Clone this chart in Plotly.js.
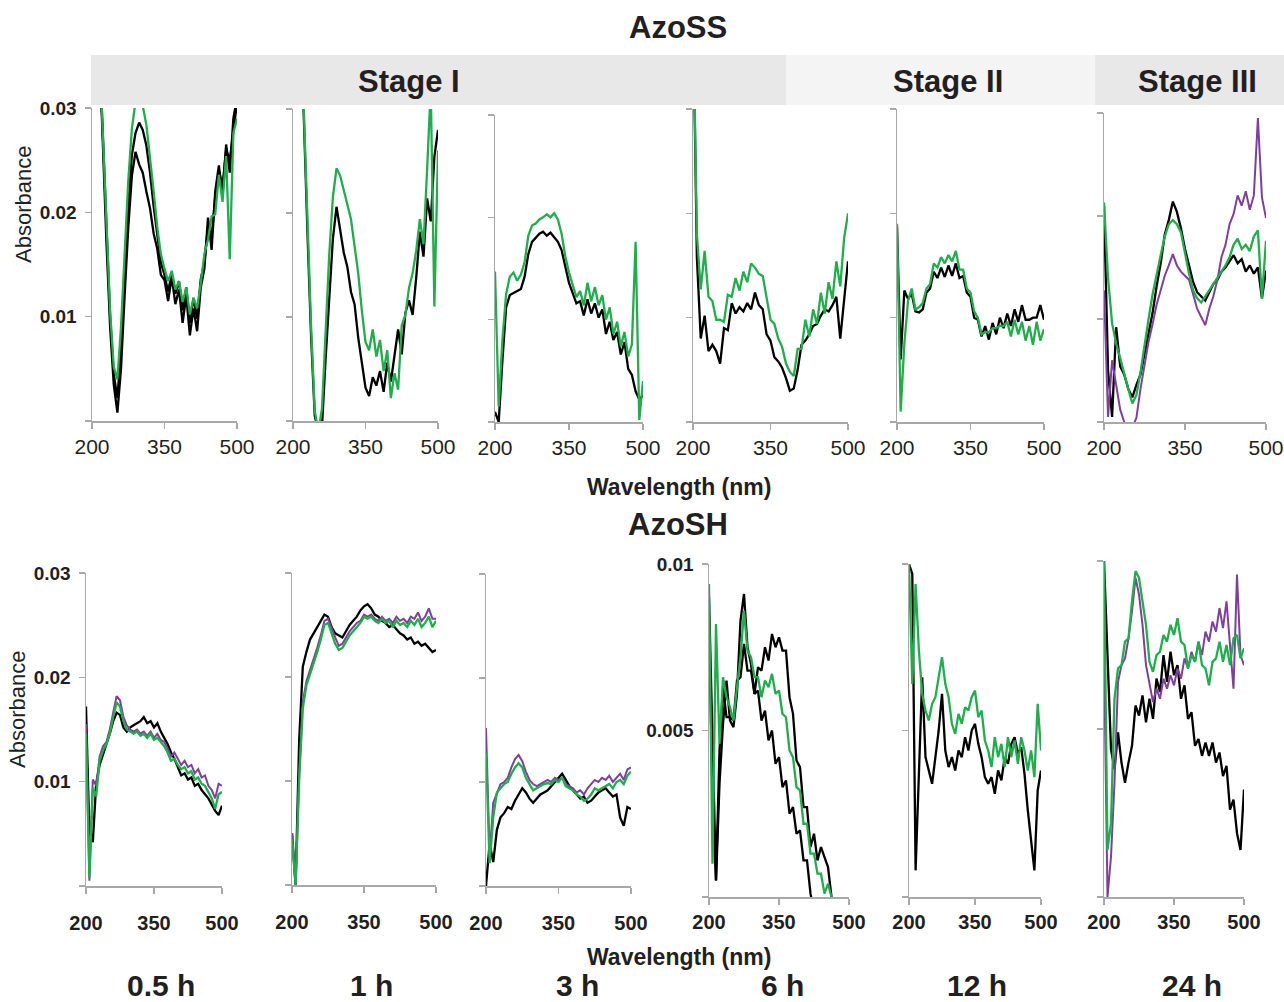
<!DOCTYPE html>
<html>
<head>
<meta charset="utf-8">
<script src="https://cdn.plot.ly/plotly-3.0.1.min.js"></script>
<style>html,body{margin:0;padding:0;background:#fff;}#chart{width:1284px;height:1002px;}</style>
</head>
<body>
<div id="chart"></div>
<script>
// ---------------- DATA (absorbance in units of 0.001) ----------------
const wavelength = [200,207.5,215,222.5,230,237.5,245,252.5,260,267.5,
  275,282.5,290,297.5,305,312.5,320,327.5,335,342.5,
  350,357.5,365,372.5,380,387.5,395,402.5,410,417.5,
  425,432.5,440,447.5,455,462.5,470,477.5,485,492.5,500];

const timeLabels = ['0.5 h','1 h','3 h','6 h','12 h','24 h'];
const stageLabels = ['Stage I','Stage II','Stage III'];

// AzoSS
const ss_05h_black1 = [45,42,36,26,17,9,3.5,0.8,5,12, 18.5,23.5,25.8,24.6,23.8,22,20.4,18,16.5,14, 13.5,11.5,13.8,11.2,12.6,9.4,12,8.2,10.8,8.6, 12.8,14.6,19.5,16.4,22,24.5,21.5,26.5,23.8,29,31];
const ss_05h_black2 = [45,42,36,27,18,10,4.5,2.2,7,14, 20.5,25.5,27.6,28.6,27.9,26.4,23.8,20.6,17.8,15.2, 14,12.4,14.2,12.2,13.4,10.6,12.8,9.4,11.8,9.8, 13.6,15.2,18.6,17.6,21.5,24,22.5,26,25,28,30.5];
const ss_05h_green  = [45,42,36,27.5,18.5,10.5,5.2,4,9,16, 23,28,30.6,30.8,30.2,28.4,25.4,22,18.6,16, 14.6,13.4,14.4,12.6,13.4,11.4,12.8,10.2,11.8,10.8, 13.2,16,17.4,19.6,19.8,23.6,21,25.4,15.5,27.6,29];

const ss_1h_black = [45,44,40,28,18,8,0.5,-1,-0.5,6, 12,17.5,20.6,18.4,16.2,14.8,12.4,11.2,8,5.6, 3.2,2.4,4.2,3.4,4.8,2.8,5.6,3.8,6.4,8.8, 6.4,10.4,11.6,10.2,13.8,18.2,15.8,21.4,19.2,25.4,28];
const ss_1h_green = [45,44,40,29,19,9,1,-1,1.2,9, 16,21.5,24.3,23.6,22.2,20.8,19.4,16.8,14.2,10.6, 7.6,6.8,8.8,6.2,7.8,4.8,6.8,2.2,4.6,3, 9.2,10.2,12.8,14.2,16.4,19.4,17,24.2,32,11,26];

const ss_3h_black = [1,0,6,11.2,12.4,12.6,12.8,13,14.2,16.4, 17.6,18,18.4,18.6,18.2,18.5,18,17.6,16.8,15.2, 13.6,12.6,11.6,11.8,10.4,12,10.6,11.6,10.2,11, 8.6,9.8,8,8.8,6.6,7.8,5.2,4.6,3,2.2,2.6];
const ss_3h_green = [14.7,1.5,8,12.5,14.2,14.6,13.8,14.4,15.6,18.2, 19.2,19.4,19.8,20,20.3,20,20.4,19.8,18.4,16.2, 14.6,13.4,12.2,12.8,11.4,13.6,11.8,13.2,11.4,12.4, 10,11.2,8.6,9.8,7.4,8.8,6.4,7.6,17.6,0.2,4];

const ss_6h_black = [40,15.8,8,10.2,6.8,7.4,6.8,5.6,9,8.8, 11.4,10.4,11,10.6,11.4,10.8,12.4,11.2,10.8,8.4, 7.8,6.2,5.8,5.2,4.2,3,3.2,5,7.4,7.8, 8.4,9.2,9.4,10.2,10.8,10.6,11.2,12,8,11.6,15.4];
const ss_6h_green = [40,18,12.7,16.4,12,11.6,9.8,9.8,9.6,12.2, 12,13.8,12.6,14.4,13.4,15.2,14.8,14.2,14,11.8, 9.8,9.4,8,7.2,5.6,4.8,4.4,7,7,9.8, 8.2,10.8,9.4,12.4,10.4,13.4,11.8,15.4,13,17.6,20];

const ss_12h_black = [18.7,6,12.6,11.8,12.3,10.6,10.5,10.8,12.4,12.8, 14.4,13.8,14.8,13.9,15,14,15.2,13.8,14,12.4, 12,10,9.8,8.2,9.2,7.9,9.5,8.4,10,9, 10.4,9.2,10.8,9.6,11.2,9.8,9.8,10,10,11.2,9.8];
const ss_12h_green = [19,1,7.5,11.6,12.8,10.8,11,11.4,12.8,13.2, 15.2,14.8,15.8,15.2,16,15.4,16.4,14.6,14.6,12.8, 12.4,10.6,10,8.4,8.6,8.6,9,9,9.2,9.2, 9.6,8.2,9.8,8.4,9.6,7.8,9.2,7.4,9.6,7.8,8.9];

const ss_24h_black  = [21,5,0.5,9.2,5.4,4.6,3.2,2.4,3.6,4.6, 6.6,8.6,10.6,13.2,15.4,18.2,19.6,21.4,20.4,18.8, 16.8,15.2,13.6,12.6,12.2,11.8,12.6,13.4,13.8,14.6, 15,15.6,16.2,15.4,15.8,14.6,15.2,14.4,15,12,14.7];
const ss_24h_purple = [12.8,0.5,6,3.5,1.2,0,-0.5,-0.5,0.4,3.2, 5.6,7.8,9.5,11.4,12.8,14.2,15.2,16.3,15.2,14.6, 14.2,13.8,12.4,11,10.2,9.4,11,12.2,13.8,16, 17.2,19.2,20.2,22,21,22.4,20.6,22,29.5,21.8,19.8];
const ss_24h_green  = [21.3,14,9.6,7.6,6.2,4.6,3.2,1.8,2.6,4.8, 7.6,10,12.4,14.4,16.2,18,19.2,19.6,19.2,18.4, 16.4,14.4,12.8,12,11.6,12.2,12.8,13.4,14,14.6, 15.2,16,17.2,17.8,16.8,17.2,16.6,18,18.6,12,17.6];

// AzoSH
const sh_05h_black  = [17.2,5,4.2,9.8,11.6,12.6,13.4,14.6,15.8,16.6, 16.4,15.2,14.8,15.2,15.4,15.6,15.8,16.2,15.6,15.8, 15.2,15.6,14.8,14.2,13.6,12.8,12.2,11.4,10.6,10.8, 10.2,10.4,9.6,9.8,9.2,8.8,8.4,7.8,7.2,6.8,7.7];
const sh_05h_purple = [15.5,0.5,10.2,9.6,12.4,13.4,13.8,15,16.6,18.2, 17.8,16.2,15.4,15,14.8,15,14.6,14.8,14.4,14.8, 14.2,14.6,14,13.8,13.2,12.4,12.8,12.2,11.6,12, 11.4,11.6,10.8,11.2,10.4,10.6,9.6,9.2,8.4,9.8,9.6];
const sh_05h_green  = [14.6,0.8,9.4,8.6,12,13,13.6,14.6,16.2,17.6, 17.2,15.8,15,14.8,14.6,14.8,14.4,14.6,14.2,14.6, 14,14.2,13.8,13.4,12.8,12,12.2,11.6,11.2,11.4, 10.8,11,10.2,10.4,9.8,9.6,9,8.4,7.4,8.8,9];

const sh_1h_black  = [5,0,14,21,22.4,23.6,24.2,24.8,25.4,26, 25.8,24.8,24.2,24,23.8,24.4,25,25.4,25.8,26.4, 26.8,27,26.6,26,25.8,25.4,25.2,24.8,25,24.6, 24.2,24,23.6,23.8,23.2,23.4,23,23.2,22.8,22.4,22.6];
const sh_1h_purple = [5,0,10.6,17.6,19.6,20.6,21.6,22.8,24,25.4, 25.6,24.6,23.8,23,23.2,23.8,24.4,24.8,25.2,25.4, 26,25.8,26,25.6,25.4,25.8,25.4,25.6,25.2,25.8, 25.4,25.6,25.2,25.8,25.6,26.2,25.4,25.8,26.6,25.6,25.6];
const sh_1h_green  = [4.4,0,10.2,17,19.2,20.2,21.2,22.4,23.6,25, 25.2,24.2,23.2,22.6,22.8,23.4,24,24.4,24.8,25.2, 25.8,25.6,25.8,25.4,25.2,25.6,25.2,25.4,24.8,25.4, 25,25.2,24.8,25.4,25,25.6,24.8,25.2,25.8,24.8,25.4];

const sh_3h_black  = [0,4.1,2.3,5.4,6.6,7,7.6,7.4,8.2,8.8, 9.4,9,8.4,8,8.4,8.8,9,9.2,9.6,10, 10.4,10.8,10.2,9.6,9.2,8.8,8.4,8.6,8,8.2, 8.6,9,9.2,9.4,9,8.6,8.8,6.6,5.8,7.6,7.4];
const sh_3h_purple = [15.2,3,8,9,9.8,10,10.4,11.4,12.2,12.6, 12,11,10.2,9.8,9.6,9.8,10,10.2,10,10.4, 10.2,10.4,9.8,9.6,9.4,9,9.2,8.8,9.4,9.8, 10.2,10,10.4,10.2,10.6,10,10.4,10.8,10.2,11.2,11.4];
const sh_3h_green  = [12.8,2.2,6.6,9,9.4,9.8,10,10.8,11.4,11.8, 11.4,10.4,9.8,9.2,9.4,9.6,9.8,9.9,9.8,10.2, 10,10.4,9.6,9.4,9.2,8.8,8.6,8.2,8.4,8.8, 9.4,9.2,9.4,9.6,9.8,9.4,10,10.2,9.8,10.6,11];

const sh_6h_black1 = [8.4,3,0.5,3.4,5.2,6.5,5.3,5.1,6.1,8.3, 9.1,7.5,7,6.1,6.9,6.8,7.5,7.1,7.9,7.5, 7.8,7.4,7.4,6,5.5,4.1,3.9,2.7,2.7,1.5, 1.9,1.1,1.5,1.2,0.9,0,-0.5,-1,-1.5,-2,-2.5];
const sh_6h_black2 = [9,5,0.5,4.4,6.3,5.4,5.4,5.3,6.5,6.6, 7.6,6.8,6.8,6.1,6.2,5.3,5.6,4.7,5,4, 4.2,3.3,3.5,2.5,2.7,1.9,2,1.1,1.1,0.1, -0.5,-1,-1.5,-2,-2.5,-3,-3,-3,-3,-3,-3];
const sh_6h_green  = [9.4,1,8.2,4.6,6.6,6,5.7,5.3,6.3,7.2, 8.6,7.4,7.2,6.6,6.6,6,6.5,6.3,6.7,6.1, 6.2,5.5,5.4,4.4,4.2,3.3,3.2,2.2,2.2,1.3, 1.3,0.7,0.7,0.1,0.4,0,-0.2,-1,-2,-2.5,-3];

const sh_12h_black = [10,9.7,0.8,3.6,6.6,4.2,3.8,3.4,4.2,5, 6.1,4.4,3.9,4.2,3.8,4.4,4.2,4.8,4.4,5, 5.2,4.6,4.2,3.6,3.4,3.6,3.1,3.8,3.5,4.2, 4,4.6,4.8,4.3,4.5,3.7,2.6,1.6,0.8,3.2,3.8];
const sh_12h_green = [10,6.4,9.4,7.4,6.1,5.6,5.3,5.8,6,6.6, 7.2,6.4,6,5.2,4.9,5.5,5.2,5.7,5.6,6, 6.2,5.4,5.6,4.7,4.4,3.9,4.8,4.2,4.6,3.9, 4.8,4.2,4.7,4,4.8,4.4,3.8,4.4,3.6,5.8,4.4];

const sh_24h_black  = [10,7,4.4,3.8,4.9,4,3.4,4,4.5,5.7, 5.4,6,5.2,5.9,5.3,6.5,6.1,7.2,6.4,7.3, 6.6,6.9,5.9,6.3,5.3,5.5,4.5,4.7,4.2,4.6, 4.2,4.6,4,4.3,3.6,3.9,2.6,2.9,1.9,1.4,3.2];
const sh_24h_purple = [7.4,0,1.2,3.4,6.4,6.9,7.1,7.7,8.5,9.5, 9,8.1,6.9,6.3,5.8,6.2,5.9,6.5,6.2,6.6, 6.3,6.8,6.5,7.1,6.8,7.3,7,7.6,7.2,7.9, 7.6,8.2,7.9,8.6,8,8.8,7.4,6.2,9.6,7.2,6.9];
const sh_24h_green  = [10,1.4,2.2,5.9,6.8,6.9,7.6,7.7,8.8,9.7, 9.5,8.8,8.1,7,6.7,7.2,7.3,7.8,7.6,8.1, 7.8,8.3,7.6,7.5,6.8,7.2,7,7.6,6.9,6.8, 6.3,7,7.1,7.6,7,7.5,6.9,7.7,7.8,7.1,7.4];

// ---------------- STYLES & LAYOUT ----------------
const W = 1284, H = 1002;
const COLORS = {k:'#000000', p:'#7e3f9d', g:'#1fae4b'};
const WIDTHS = {k:2.3, p:2.0, g:2.3};
const AXIS_COLOR = '#a8a8a8';
const TEXT_COLOR = '#231f20';
const SANS = 'Liberation Sans, Arial, sans-serif';

// panel pixel boxes: [left, right, top, bottom]
const boxes = [
  [92,237,108,421],[293,438,109,421],[495,643,115,422],[693,848,109,422],[897,1044,109,422],[1104,1266,113,422],
  [86,222,573,886],[292,436,573,885],[486,631,574,886],[709,849,564,897],[909,1041,564,897],[1104,1244,561,897]
];

const panels = [
  {series:[[ss_05h_black1,'k'],[ss_05h_black2,'k'],[ss_05h_green,'g']], yk:'a', showY:true, row:0},
  {series:[[ss_1h_black,'k'],[ss_1h_green,'g']], yk:'a', showY:false, row:0},
  {series:[[ss_3h_black,'k'],[ss_3h_green,'g']], yk:'a', showY:false, row:0},
  {series:[[ss_6h_black,'k'],[ss_6h_green,'g']], yk:'a', showY:false, row:0},
  {series:[[ss_12h_black,'k'],[ss_12h_green,'g']], yk:'a', showY:false, row:0},
  {series:[[ss_24h_black,'k'],[ss_24h_purple,'p'],[ss_24h_green,'g']], yk:'a', showY:false, row:0},
  {series:[[sh_05h_black,'k'],[sh_05h_purple,'p'],[sh_05h_green,'g']], yk:'a', showY:true, row:1},
  {series:[[sh_1h_black,'k'],[sh_1h_purple,'p'],[sh_1h_green,'g']], yk:'a', showY:false, row:1},
  {series:[[sh_3h_black,'k'],[sh_3h_purple,'p'],[sh_3h_green,'g']], yk:'a', showY:false, row:1},
  {series:[[sh_6h_black1,'k'],[sh_6h_black2,'k'],[sh_6h_green,'g']], yk:'b', showY:true, row:2},
  {series:[[sh_12h_black,'k'],[sh_12h_green,'g']], yk:'b', showY:false, row:2},
  {series:[[sh_24h_black,'k'],[sh_24h_purple,'p'],[sh_24h_green,'g']], yk:'b', showY:false, row:2}
];

const yScales = {
  a: {range:[0,30], tickvals:[0,10,20,30], ticktext:['','0.01','0.02','0.03']},
  b: {range:[0,10], tickvals:[0,5,10], ticktext:['','0.005','0.01']}
};

const xTickFont = [
  {family:SANS, size:21, color:TEXT_COLOR},
  {family:SANS, size:20, color:TEXT_COLOR, weight:'bold'},
  {family:SANS, size:20, color:TEXT_COLOR, weight:'bold'}
];
const xStandoff = [0, 12, 0];

const data = [];
const layout = {
  width: W, height: H,
  margin: {l:0, r:0, t:0, b:0, pad:0},
  paper_bgcolor: '#ffffff', plot_bgcolor: 'rgba(0,0,0,0)',
  showlegend: false,
  shapes: [], annotations: []
};

panels.forEach((pn, i) => {
  const n = i + 1;
  const xk = n === 1 ? 'xaxis' : 'xaxis' + n;
  const yk = n === 1 ? 'yaxis' : 'yaxis' + n;
  const xr = n === 1 ? 'x' : 'x' + n;
  const yr = n === 1 ? 'y' : 'y' + n;
  const b = boxes[i];
  pn.series.forEach(([vals, c]) => {
    data.push({x: wavelength, y: vals, xaxis: xr, yaxis: yr, type: 'scatter', mode: 'lines',
      line: {color: COLORS[c], width: WIDTHS[c]}, hoverinfo: 'skip'});
  });
  layout[xk] = {
    domain: [b[0]/W, b[1]/W], anchor: yr, range: [200, 500],
    tickvals: [200, 350, 500], ticktext: ['200','350','500'],
    ticks: 'outside', ticklen: 6, tickwidth: 1.3, tickcolor: AXIS_COLOR,
    showline: true, linecolor: AXIS_COLOR, linewidth: 1.5,
    showgrid: false, zeroline: false, fixedrange: true,
    tickfont: xTickFont[pn.row], ticklabelstandoff: xStandoff[pn.row]
  };
  const ys = yScales[pn.yk];
  layout[yk] = {
    domain: [1 - b[3]/H, 1 - b[2]/H], anchor: xr, range: ys.range,
    tickvals: ys.tickvals, ticktext: ys.ticktext, showticklabels: pn.showY,
    ticks: 'outside', ticklen: 6, tickwidth: 1.3, tickcolor: AXIS_COLOR,
    showline: true, linecolor: AXIS_COLOR, linewidth: 1.5,
    showgrid: false, zeroline: false, fixedrange: true,
    tickfont: {family:SANS, size:19, color:TEXT_COLOR, weight:'bold'},
    ticklabelstandoff: 4
  };
});

// stage band
const bandEdges = [91, 786, 1095, 1284];
const bandColors = ['#e8e8e8', '#f4f4f4', '#e8e8e8'];
const bandCenters = [409, 948, 1197];
stageLabels.forEach((s, i) => {
  layout.shapes.push({type:'rect', xref:'paper', yref:'paper', layer:'below',
    x0: bandEdges[i]/W, x1: bandEdges[i+1]/W, y0: 1 - 105/H, y1: 1 - 55/H,
    fillcolor: bandColors[i], line: {width: 0}});
  layout.annotations.push({text: s, xref:'paper', yref:'paper', x: bandCenters[i]/W, y: 1 - 82/H,
    xanchor:'center', yanchor:'middle', showarrow:false,
    font:{family:SANS, size:31, color:TEXT_COLOR, weight:'bold'}});
});

function addText(text, px, py, font, angle) {
  layout.annotations.push({text, xref:'paper', yref:'paper', x: px/W, y: 1 - py/H,
    xanchor:'center', yanchor:'middle', showarrow:false, textangle: angle || 0, font});
}
const boldBig = {family:SANS, size:31, color:TEXT_COLOR, weight:'bold'};
const wlFont = {family:SANS, size:23, color:TEXT_COLOR, weight:'bold'};
const absFont = {family:SANS, size:22, color:TEXT_COLOR};
const timeFont = {family:SANS, size:30, color:TEXT_COLOR, weight:'bold'};

addText('AzoSS', 678, 27, boldBig);
addText('AzoSH', 678, 524, boldBig);
addText('Wavelength (nm)', 679, 487, wlFont);
addText('Wavelength (nm)', 679, 957, wlFont);
addText('Absorbance', 24, 205, absFont, -90);
addText('Absorbance', 17, 710, absFont, -90);
const timeCenters = [161, 372, 577, 782, 977, 1192];
timeLabels.forEach((t, i) => addText(t, timeCenters[i], 985, timeFont));

Plotly.newPlot('chart', data, layout, {staticPlot: true, displayModeBar: false});
</script>
</body>
</html>
